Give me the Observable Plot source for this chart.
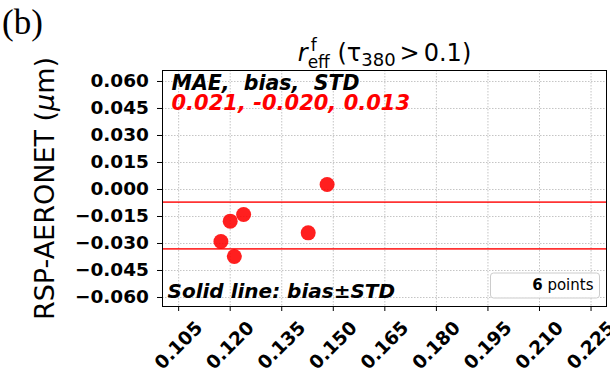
<!DOCTYPE html>
<html><head><meta charset="utf-8">
<script src="https://cdn.jsdelivr.net/npm/d3@7"></script>
<script src="https://cdn.jsdelivr.net/npm/@observablehq/plot@0.6"></script>
<style>
body{margin:0;background:#fff;}
svg text{white-space:pre;}
</style></head><body><div id="chart"></div>
<script>
// ---- data ----
const xValues = [0.1482, 0.1239, 0.1200, 0.1173, 0.1212, 0.1427];
const yValues = [0.0028, -0.0139, -0.0176, -0.0289, -0.0372, -0.0241];
const statNames = ["MAE", "bias", "STD"];
const statValues = [0.021, -0.020, 0.013];
const xTicks = [0.105, 0.120, 0.135, 0.150, 0.165, 0.180, 0.195, 0.210, 0.225];
const yTicks = [-0.060, -0.045, -0.030, -0.015, 0.000, 0.015, 0.030, 0.045, 0.060];
const xDomain = [0.1003, 0.2295];
const yDomain = [-0.065, 0.0661];
const yLabel = "RSP-AERONET (μm)";
const titleText = "reff (τ380>0.1)";
const panelLabel = "(b)";

const bias = statValues[1], std = statValues[2];
const bandLines = [bias + std, bias - std];
const points = xValues.map((x, i) => ({x, y: yValues[i]}));
const countText = points.length + " points";
const fmt = d3.format(".3f");
const grid = {stroke: "#b0b0b0", strokeOpacity: 0.75, strokeDasharray: "1.5,1.5"};

const svg = Plot.plot({
  width: 610, height: 375,
  marginTop: 70, marginBottom: 69, marginLeft: 162, marginRight: 4,
  style: {fontFamily: "DejaVu Sans", background: "white", color: "black", overflow: "visible"},
  x: {domain: xDomain, label: null},
  y: {domain: yDomain, label: null},
  marks: [
    Plot.gridX({ticks: xTicks, ...grid}),
    Plot.gridY({ticks: yTicks, ...grid}),
    Plot.ruleY(bandLines, {stroke: "red", strokeWidth: 1.6, strokeOpacity: 0.8}),
    Plot.dot(points, {x: "x", y: "y", r: 7.5, fill: "red", fillOpacity: 0.88}),
    Plot.frame({stroke: "black", strokeWidth: 1}),
    Plot.axisY({ticks: yTicks, tickSize: 5, tickPadding: 8.5, tickFormat: fmt, fontSize: 18.5, fontWeight: "bold", label: null}),
    Plot.axisX({ticks: xTicks, tickSize: 5, tickFormat: () => "", label: null}),
    Plot.text(xTicks, {x: d => d, frameAnchor: "bottom", dy: 39, rotate: -45, text: fmt,
      fontSize: 18.5, fontWeight: "bold", textAnchor: "middle", lineAnchor: "middle"}),
    Plot.text([statNames.join(",  ")], {frameAnchor: "top-left", dx: 9, dy: 12.5, fontSize: 20.5,
      fontWeight: "bold", fontStyle: "italic", textAnchor: "start", lineAnchor: "middle"}),
    Plot.text([statValues.map(v => v.toFixed(3)).join(", ")], {frameAnchor: "top-left", dx: 9, dy: 33,
      fontSize: 21, fontWeight: "bold", fontStyle: "italic", fill: "red", textAnchor: "start", lineAnchor: "middle"}),
    Plot.text(["Solid line: bias±STD"], {frameAnchor: "bottom-left", dx: 5, dy: -15, fontSize: 20,
      fontWeight: "bold", fontStyle: "italic", textAnchor: "start", lineAnchor: "middle"}),
    Plot.text([countText], {frameAnchor: "bottom-right", dx: -13, dy: -21, fontSize: 15,
      textAnchor: "end", lineAnchor: "middle"}),
    Plot.text([titleText], {frameAnchor: "top", dy: -17, fontSize: 24, textAnchor: "middle",
      lineAnchor: "middle"}),
    Plot.text([yLabel], {frameAnchor: "left", dx: -117, rotate: -90, fontSize: 27,
      textAnchor: "middle", lineAnchor: "middle"}),
    Plot.text([panelLabel], {frameAnchor: "top-left", dx: -140, dy: -48, fontSize: 35,
      fontFamily: "Liberation Serif", textAnchor: "middle", lineAnchor: "middle"})
  ]
});
document.getElementById("chart").appendChild(svg);

const NS = "http://www.w3.org/2000/svg";
function findText(content) {
  return [...svg.querySelectorAll("text")].find(t => t.textContent === content);
}
function rich(content, parts) {
  const t = findText(content);
  if (!t) return null;
  t.textContent = "";
  for (const p of parts) {
    const ts = document.createElementNS(NS, "tspan");
    ts.textContent = p.t;
    for (const k of Object.keys(p)) if (k !== "t") ts.setAttribute(k, p[k]);
    t.appendChild(ts);
  }
  return t;
}
rich(titleText, [
  {t: "r", "font-style": "italic"},
  {t: "f", "font-size": 17, dx: 3, dy: -10},
  {t: "eff", "font-size": 17, dx: -9, dy: 17},
  {t: " (τ", dy: -7},
  {t: "380", "font-size": 18, dy: 5},
  {t: ">", dy: -5, dx: 4},
  {t: "0.1)", dx: 4}
]);
rich(yLabel, [
  {t: "RSP-AERONET ("},
  {t: "μ", "font-style": "italic"},
  {t: "m)"}
]);
const countNode = rich(countText, [
  {t: String(points.length), "font-weight": "bold"},
  {t: " points"}
]);
// legend-style box behind the point count
if (countNode) {
  const g = countNode.closest("g");
  const box = document.createElementNS(NS, "rect");
  box.setAttribute("x", 490.5); box.setAttribute("y", 273);
  box.setAttribute("width", 109); box.setAttribute("height", 25);
  box.setAttribute("rx", 3);
  box.setAttribute("fill", "white"); box.setAttribute("fill-opacity", 0.85);
  box.setAttribute("stroke", "#cccccc");
  g.parentNode.insertBefore(box, g);
}
</script></body></html>
